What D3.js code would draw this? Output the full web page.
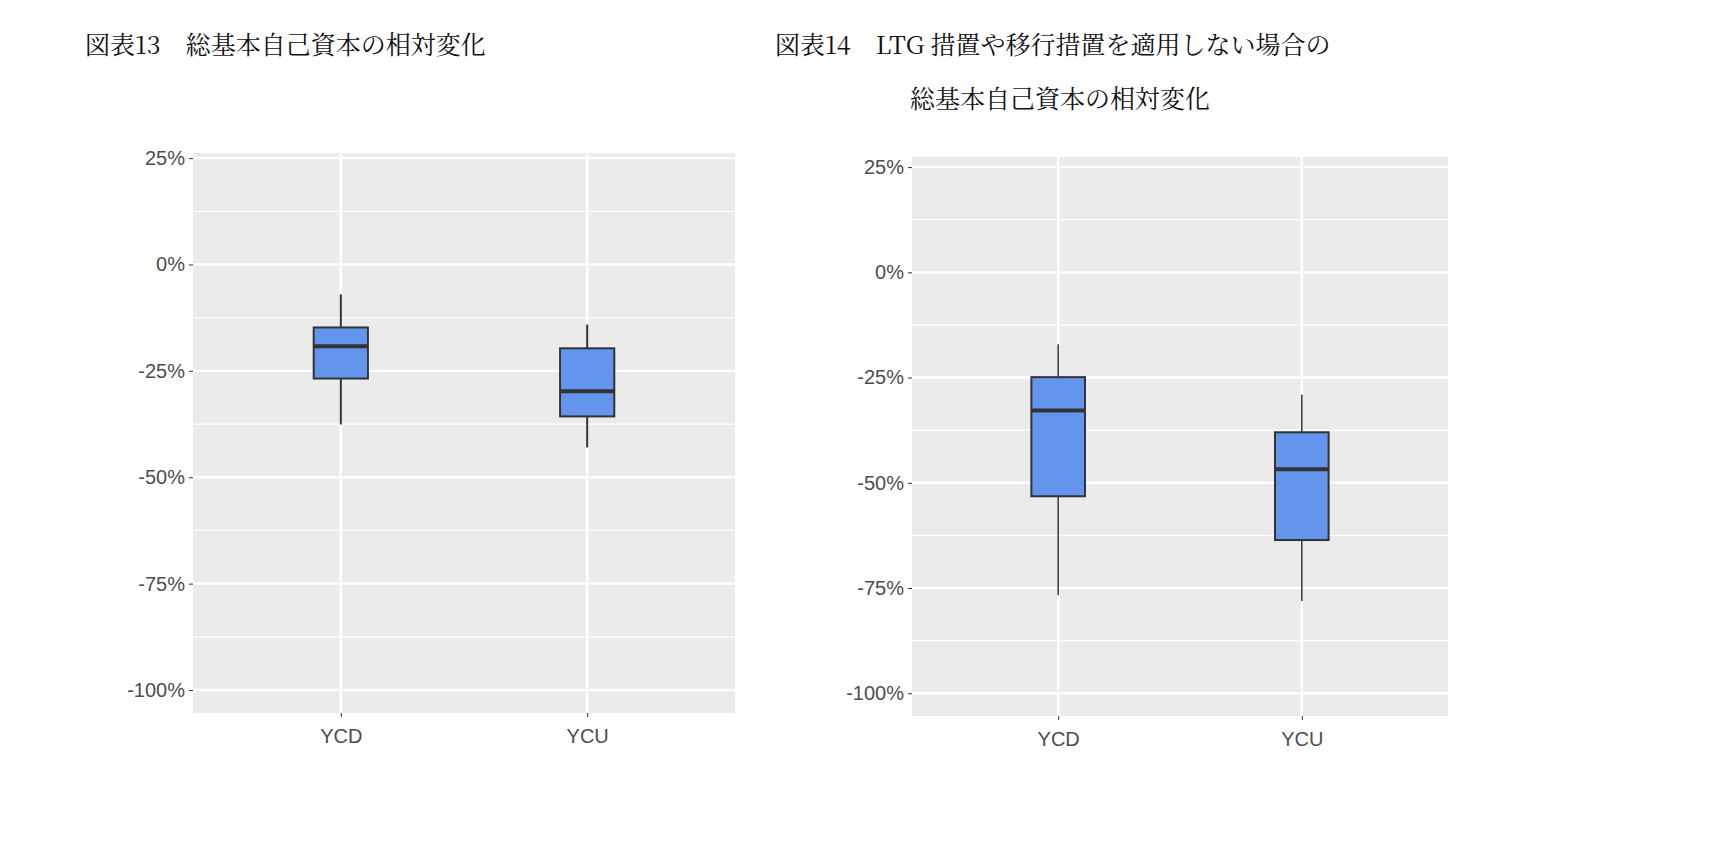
<!DOCTYPE html>
<html><head><meta charset="utf-8">
<script src="https://cdn.jsdelivr.net/npm/d3@7"></script>
<style>body{margin:0;background:#fff}</style></head>
<body><svg id="c" width="1730" height="860"></svg>
<script>
const categories = ["YCD","YCU"];
const tickValues = [25,0,-25,-50,-75,-100];
// [whiskerLow, Q1, median, Q3, whiskerHigh] in %
const chart13 = [[-37.6,-26.8,-19.2,-14.8,-7.0],[-43.0,-35.7,-29.8,-19.7,-14.1]];
const chart14 = [[-76.7,-53.2,-32.8,-24.9,-17.1],[-78.1,-63.6,-46.8,-38.0,-29.0]];
const titles13 = ["図表13　総基本自己資本の相対変化"];
const titles14 = ["図表14　LTG 措置や移行措置を適用しない場合の","総基本自己資本の相対変化"];

const svg = d3.select("#c");
function panel(data, box, titleLines, titlePos){
  const g = svg.append("g");
  titleLines.forEach((t,i)=>g.append("text").attr("x",titlePos[i][0]).attr("y",titlePos[i][1])
    .attr("font-family","'Noto Serif CJK JP','Noto Sans CJK JP',serif").attr("font-size",25).attr("fill","#111").text(t));
  const y = d3.scaleLinear().domain(box.dom).range([box.y0,box.y1]);
  const x = d3.scaleLinear().domain([0.4,2.6]).range([box.x0,box.x1]);
  g.append("rect").attr("x",box.x0).attr("y",box.y0).attr("width",box.x1-box.x0).attr("height",box.y1-box.y0).attr("fill","#EBEBEB");
  const minor = tickValues.slice(0,-1).map(v=>v-12.5);
  minor.forEach(v=>g.append("line").attr("x1",box.x0).attr("x2",box.x1).attr("y1",y(v)).attr("y2",y(v)).attr("stroke","#fff").attr("stroke-width",1.2));
  tickValues.forEach(v=>g.append("line").attr("x1",box.x0).attr("x2",box.x1).attr("y1",y(v)).attr("y2",y(v)).attr("stroke","#fff").attr("stroke-width",2.4));
  categories.forEach((c,i)=>g.append("line").attr("x1",x(i+1)).attr("x2",x(i+1)).attr("y1",box.y0).attr("y2",box.y1).attr("stroke","#fff").attr("stroke-width",2.4));
  const ax = d3.axisLeft(y).tickValues(tickValues).tickFormat(d=>d+"%").tickSize(4).tickPadding(4);
  const ag = g.append("g").attr("transform",`translate(${box.x0},0)`).call(ax);
  ag.select(".domain").remove();
  ag.selectAll("line").attr("stroke","#333");
  ag.selectAll("text").attr("font-family","Liberation Sans, Arial").attr("font-size",20).attr("fill","#4D4D4D");
  const bx = d3.axisBottom(x).tickValues([1,2]).tickFormat((d,i)=>categories[i]).tickSize(4).tickPadding(12);
  const bg = g.append("g").attr("transform",`translate(0,${box.y1})`).call(bx);
  bg.select(".domain").remove();
  bg.selectAll("line").attr("stroke","#333");
  bg.selectAll("text").attr("font-family","Liberation Sans, Arial").attr("font-size",20).attr("fill","#4D4D4D");
  const hw = (x(1.11)-x(1));
  data.forEach((d,i)=>{
    const cx = x(i+1);
    g.append("line").attr("x1",cx).attr("x2",cx).attr("y1",y(d[4])).attr("y2",y(d[3])).attr("stroke","#333").attr("stroke-width",box.ww);
    g.append("line").attr("x1",cx).attr("x2",cx).attr("y1",y(d[1])).attr("y2",y(d[0])).attr("stroke","#333").attr("stroke-width",box.ww);
    g.append("rect").attr("x",cx-hw).attr("y",y(d[3])).attr("width",2*hw).attr("height",y(d[1])-y(d[3]))
      .attr("fill","#6495ED").attr("stroke","#333").attr("stroke-width",2);
    g.append("line").attr("x1",cx-hw).attr("x2",cx+hw).attr("y1",y(d[2])).attr("y2",y(d[2])).attr("stroke","#333").attr("stroke-width",4);
  });
}
panel(chart13,{x0:193,x1:735,y0:153,y1:713,dom:[26.2,-105.4],ww:2},titles13,[[85,54]]);
panel(chart14,{x0:912,x1:1448,y0:157,y1:716,dom:[27.4,-105.4],ww:1.5},titles14,[[775,54],[910,108]]);
</script></body></html>
